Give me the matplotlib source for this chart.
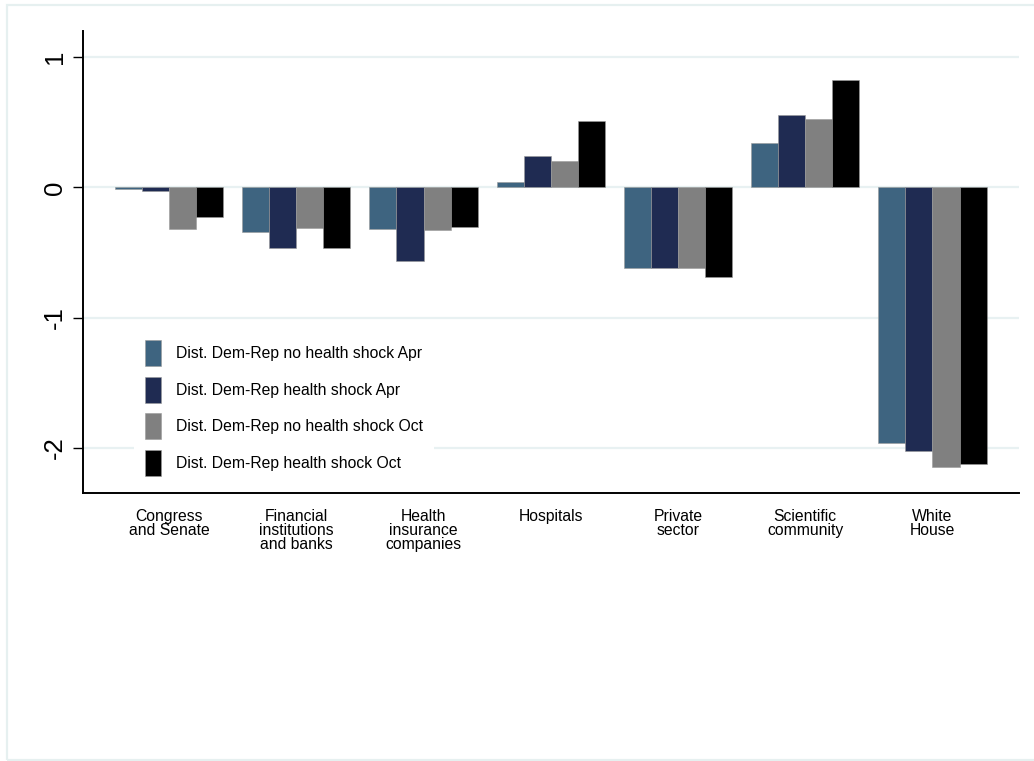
import matplotlib
matplotlib.use("Agg")
import matplotlib.pyplot as plt
from matplotlib.patches import Rectangle, Patch
import numpy as np

plt.rcParams['font.family'] = ['Liberation Sans', 'DejaVu Sans']

categories = ["Congress\nand Senate", "Financial\ninstitutions\nand banks", "Health\ninsurance\ncompanies",
              "Hospitals", "Private\nsector", "Scientific\ncommunity", "White\nHouse"]
series_names = ["Dist. Dem-Rep no health shock Apr", "Dist. Dem-Rep health shock Apr",
                "Dist. Dem-Rep no health shock Oct", "Dist. Dem-Rep health shock Oct"]
no_shock_apr = [-0.01, -0.34, -0.32, 0.04, -0.617, 0.338, -1.963]
shock_apr = [-0.028, -0.468, -0.565, 0.243, -0.617, 0.556, -2.02]
no_shock_oct = [-0.317, -0.315, -0.325, 0.20, -0.622, 0.528, -2.145]
shock_oct = [-0.225, -0.466, -0.305, 0.51, -0.686, 0.827, -2.12]
yticks = [-2, -1, 0, 1]

colors = ["#3e6480", "#1f2b52", "#808080", "#000000"]
series = [no_shock_apr, shock_apr, no_shock_oct, shock_oct]

W, H = 1034, 761
fig = plt.figure(figsize=(W / 100, H / 100), dpi=100)
fig.patch.set_facecolor("white")

# outer light frame
fig.add_artist(Rectangle((7 / W, 1.5 / H), 1.05, (H - 6.5) / H, transform=fig.transFigure,
                         fill=False, edgecolor="#e6f0f0", linewidth=1.6, zorder=0))

ax = fig.add_axes([83 / W, (H - 493.3) / H, (1019 - 83) / W, (493.3 - 31) / H])
x = np.arange(len(categories))
bw = 0.213
for i, (vals, c) in enumerate(zip(series, colors)):
    ax.bar(x + (i - 1.5) * bw, vals, width=bw, color=c, edgecolor="#9a9a9a",
           linewidth=0.4, zorder=3, label=series_names[i])

ax.set_xlim(-0.676, 6.68)
ax.set_ylim(-2.347, 1.2)
ax.set_yticks(yticks)
ax.set_yticklabels([str(t) for t in yticks], rotation=90, va="center", fontsize=18.5)
ax.set_xticks(x)
ax.set_xticklabels(categories, fontsize=11.3, linespacing=0.95, va="top")
ax.tick_params(axis="x", length=0, pad=11)
ax.tick_params(axis="y", length=7.5, width=1.0, pad=4, direction="out")
for yv in yticks:
    ax.axhline(yv, color="#e8f1f2", linewidth=1.6, zorder=1)
for s in ["top", "right"]:
    ax.spines[s].set_visible(False)
ax.spines["left"].set_linewidth(1.4)
ax.spines["bottom"].set_linewidth(1.4)

handles = [Patch(facecolor=c, edgecolor="#9a9a9a", linewidth=0.4) for c in colors]
leg = fig.legend(handles, series_names, loc="upper left",
                 bbox_to_anchor=(134 / W, 1 - 329 / H), bbox_transform=fig.transFigure,
                 borderaxespad=0, fontsize=11.3, handlelength=1.0, handleheight=2.17,
                 labelspacing=0.68, handletextpad=1.0, borderpad=0.7,
                 frameon=True, fancybox=False)
leg.get_frame().set_edgecolor("none")
leg.get_frame().set_facecolor("white")
leg.get_frame().set_alpha(1)
leg.set_zorder(5)

fig.savefig("out.png", dpi=100)
